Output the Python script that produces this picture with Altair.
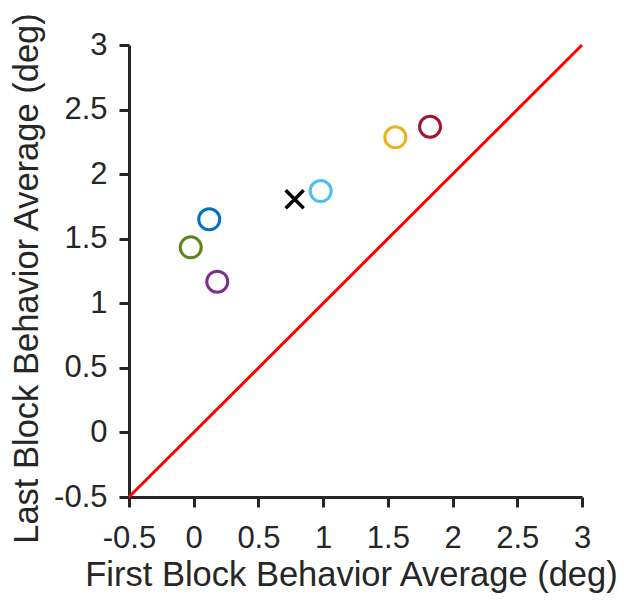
import altair as alt
import pandas as pd

# Per-subject averages (deg)
first_block = [-0.023, 0.12, 0.182, 0.981, 1.558, 1.826]
last_block = [1.433, 1.65, 1.167, 1.869, 2.285, 2.367]
subjects = ["S1", "S2", "S3", "S4", "S5", "S6"]
subject_colors = ["#5B841E", "#0072BD", "#7E2F8E", "#4DBEEE", "#EDB120", "#A2142F"]

# Group average marker
group_first = [0.78]
group_last = [1.805]

# Identity line end points and shared tick values
identity_line = [-0.5, 3]
axis_ticks = [-0.5, 0, 0.5, 1, 1.5, 2, 2.5, 3]

subj_df = pd.DataFrame({"first": first_block, "last": last_block, "subject": subjects})
mean_df = pd.DataFrame({"first": group_first, "last": group_last})
line_df = pd.DataFrame({"first": identity_line, "last": identity_line})

scale = alt.Scale(domain=[-0.5, 3], nice=False, zero=False)

x_axis = alt.Axis(
    values=axis_ticks,
    labelExpr="'' + datum.value",
    title="First Block Behavior Average (deg)",
    grid=False,
    tickSize=10,
    labelFlush=False,
    labelAlign="center",
    labelBaseline="alphabetic",
    labelPadding=40,
    titleBaseline="alphabetic",
    titleAlign="center",
    titleX=222,
    titleY=88,
)
y_axis = alt.Axis(
    values=axis_ticks,
    labelExpr="'' + datum.value",
    title="Last Block Behavior Average (deg)",
    grid=False,
    tickSize=10,
    labelFlush=False,
    labelPadding=12,
    titleBaseline="alphabetic",
    titleAlign="center",
    titleX=-92,
    titleY=233,
)

x_enc = alt.X("first:Q", scale=scale, axis=x_axis)
y_enc = alt.Y("last:Q", scale=scale, axis=y_axis)

identity = alt.Chart(line_df).mark_line(color="#FF0000", strokeWidth=3).encode(x=x_enc, y=y_enc)

subjects_layer = alt.Chart(subj_df).mark_point(
    shape="circle", filled=False, size=441, strokeWidth=3, opacity=1
).encode(
    x=x_enc,
    y=y_enc,
    color=alt.Color("subject:N", scale=alt.Scale(domain=subjects, range=subject_colors), legend=None),
)

mean_layer = alt.Chart(mean_df).mark_point(
    shape="M-1,-1L1,1M-1,1L1,-1", filled=False, size=324, strokeWidth=3.5,
    color="#000000", opacity=1
).encode(x=x_enc, y=y_enc)

chart = (
    alt.layer(identity, subjects_layer, mean_layer)
    .properties(
        width=453,
        height=452,
        autosize=alt.AutoSizeParams(type="none"),
        padding={"left": 129, "top": 45, "right": 42, "bottom": 103},
        background="white",
    )
    .configure_view(stroke=None)
    .configure_axis(
        domainColor="#262626",
        domainWidth=3,
        tickColor="#262626",
        tickWidth=3,
        labelColor="#262626",
        labelFont="Liberation Sans",
        labelFontSize=31,
        titleColor="#262626",
        titleFont="Liberation Sans",
        titleFontSize=34.5,
        titleFontWeight="normal",
    )
)

chart.save("out.html", embed_options={"renderer": "svg", "actions": False})
